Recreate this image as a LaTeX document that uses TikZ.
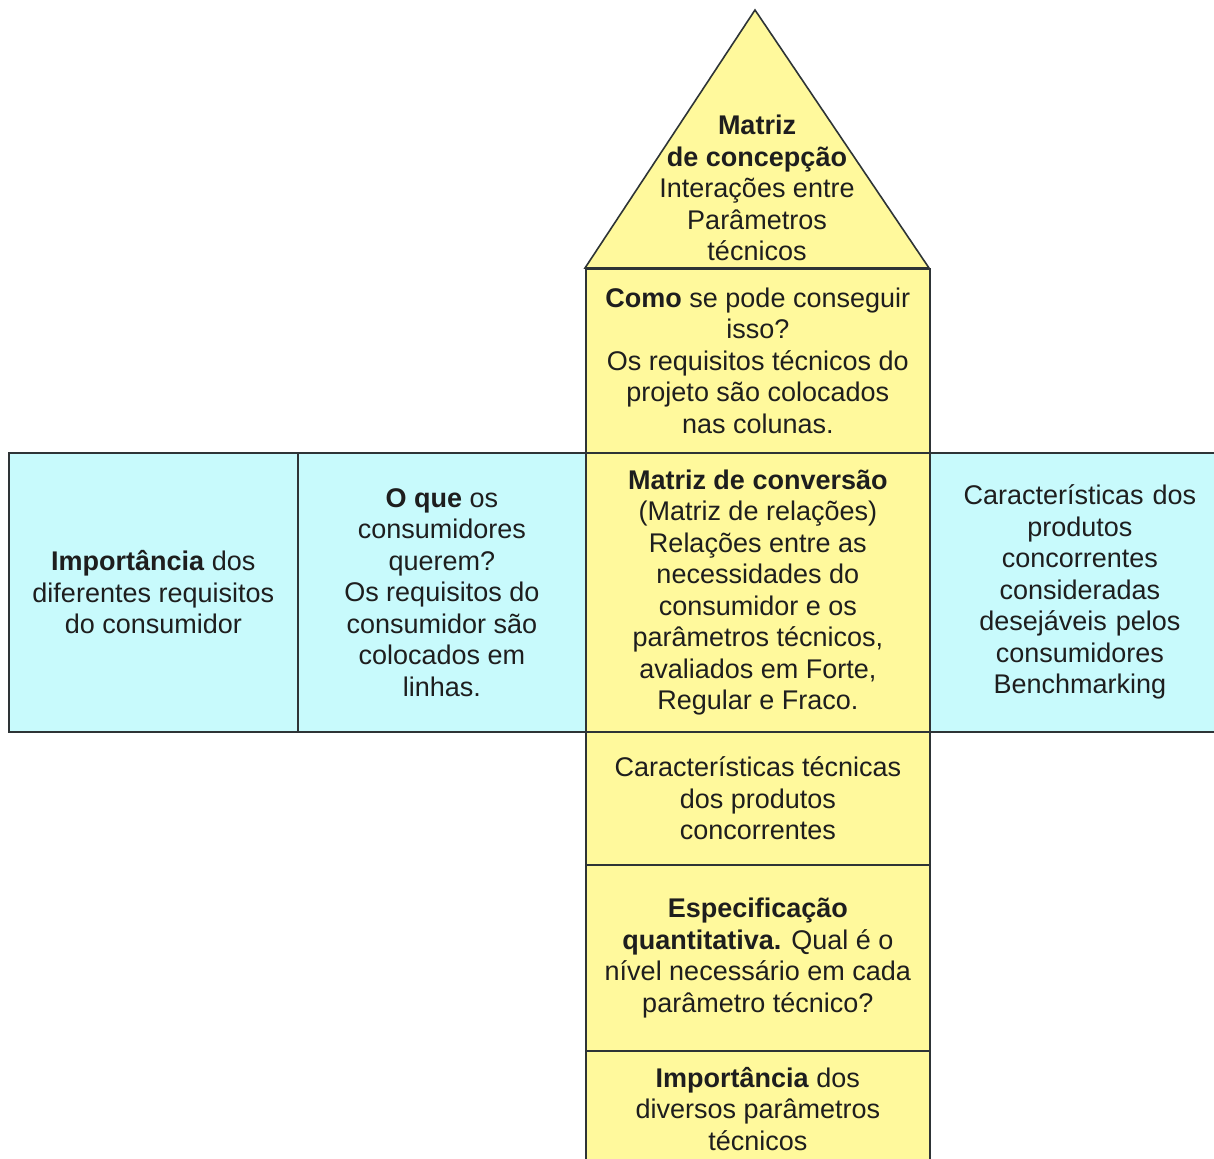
\documentclass[tikz,border=0pt]{standalone}
\usepackage{fontspec}
\setmainfont{Liberation Sans}
\definecolor{qyel}{HTML}{FFF99C}
\definecolor{qcyan}{HTML}{C8FAFC}
\definecolor{qline}{HTML}{2E3436}
\definecolor{qtext}{HTML}{1E1E1E}
\begin{document}
\begin{tikzpicture}[x=1pt,y=-1pt,
  cell/.style={draw=qline, line width=1.6pt, rectangle, anchor=north west,
    inner sep=0pt, align=center, text=qtext,
    font=\fontsize{27}{31.5}\selectfont},
  yelcell/.style={cell, fill=qyel, minimum width=344pt},
  cyancell/.style={cell, fill=qcyan, minimum height=279pt},
  txt/.style={align=center, text=qtext, inner sep=0pt,
    font=\fontsize{27}{31.5}\selectfont}]
\clip (0,0) rectangle (1214,1158);
\fill[white] (0,0) rectangle (1214,1158);
% roof
\coordinate (apex) at (755,10);
\coordinate (roofL) at (585,268);
\coordinate (roofR) at (929,268);
\draw[draw=qline, line width=1.6pt, fill=qyel, line join=miter] (roofL) -- (apex) -- (roofR) -- cycle;
\node[txt] (roof) at (757,188) {\textbf{Matriz}\\\textbf{de concepção}\\Interações entre\\Parâmetros\\técnicos};
% central column
\node[yelcell, minimum height=184pt] (como) at (585,268)
  {\textbf{Como} se pode conseguir\\isso?\\Os requisitos técnicos do\\projeto são colocados\\nas colunas.};
\node[yelcell, minimum height=279pt] (conv) at (585,452)
  {\textbf{Matriz de conversão}\\(Matriz de relações)\\Relações entre as\\necessidades do\\consumidor e os\\parâmetros técnicos,\\avaliados em Forte,\\Regular e Fraco.};
\node[yelcell, minimum height=133pt] (carac) at (585,731)
  {Características técnicas\\dos produtos\\concorrentes};
\node[yelcell, minimum height=186pt] (espec) at (585,864)
  {\textbf{Especificação}\\\textbf{quantitativa.} Qual é o\\nível necessário em cada\\parâmetro técnico?};
\node[yelcell, minimum height=116pt] (imppar) at (585,1050)
  {\textbf{Importância} dos\\diversos parâmetros\\técnicos};
% left wing
\node[cyancell, minimum width=289pt] (impcons) at (8,452)
  {\textbf{Importância} dos\\diferentes requisitos\\do consumidor};
\node[cyancell, minimum width=288pt] (oque) at (297,452)
  {\textbf{O que} os\\consumidores\\querem?\\Os requisitos do\\consumidor são\\colocados em\\linhas.};
% right wing
\node[cyancell, minimum width=300pt, text width=285pt] (bench) at (929,452)
  {Características dos\\produtos\\concorrentes\\consideradas\\desejáveis pelos\\consumidores\\Benchmarking};
\end{tikzpicture}
\end{document}
